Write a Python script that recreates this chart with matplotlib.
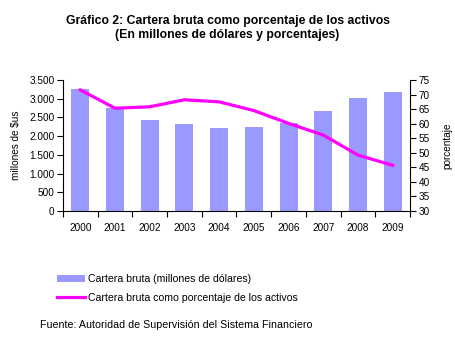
import matplotlib.pyplot as plt
import numpy as np
from matplotlib.ticker import FuncFormatter

plt.rcParams['font.family'] = ['Liberation Sans', 'DejaVu Sans']

# Data
anios = ['2000', '2001', '2002', '2003', '2004', '2005', '2006', '2007', '2008', '2009']
cartera = [3260, 2750, 2430, 2325, 2220, 2245, 2350, 2670, 3020, 3180]
porcentaje = [71.6, 65.3, 65.8, 68.2, 67.5, 64.5, 60.1, 56.1, 49.2, 45.7]

fig = plt.figure(figsize=(4.55, 3.41), dpi=100)
ax = fig.add_axes([63 / 455, 1 - 211 / 341, (410 - 63) / 455, (211 - 80) / 341])
x = np.arange(len(anios))

barras = ax.bar(x, cartera, width=0.52, color='#9999FF', zorder=2)
ax.set_xlim(-0.5, len(anios) - 0.5)
ax.set_ylim(0, 3500)
ax.set_yticks(np.arange(0, 3501, 500))
ax.yaxis.set_major_formatter(FuncFormatter(lambda v, p: f'{int(v):,}'.replace(',', '.')))
ax.set_xticks(x)
ax.set_xticklabels(anios)
ax.set_xticks(np.arange(-0.5, len(anios)), minor=True)
ax.tick_params(axis='x', which='major', length=0, labelsize=7.2, pad=8.5)
ax.tick_params(axis='x', which='minor', length=4, direction='out', width=0.8)
ax.tick_params(axis='y', labelsize=7.2, length=4, width=0.8, pad=2)
ax.set_ylabel('millones de $us', fontsize=7.2, labelpad=6)
for s in ['top', 'right']:
    ax.spines[s].set_visible(False)
for s in ['left', 'bottom']:
    ax.spines[s].set_linewidth(0.8)

ax2 = ax.twinx()
linea, = ax2.plot(x, porcentaje, color='#FF00FF', linewidth=2.3, zorder=3)
ax2.set_ylim(30, 75)
ax2.set_yticks(np.arange(30, 76, 5))
ax2.tick_params(axis='y', labelsize=7.2, length=4, width=0.8, pad=2)
ax2.set_ylabel('porcentaje', fontsize=7.2, labelpad=9)
for s in ['top', 'left', 'bottom']:
    ax2.spines[s].set_visible(False)
ax2.spines['right'].set_linewidth(0.8)

fig.text(0.5, 1 - 21 / 341, 'Gráfico 2: Cartera bruta como porcentaje de los activos',
         ha='center', va='center', fontsize=8.8, fontweight='bold')
fig.text(0.5, 1 - 35 / 341, '(En millones de dólares y porcentajes)',
         ha='center', va='center', fontsize=8.8, fontweight='bold')

fig.legend([barras, linea],
           ['Cartera bruta (millones de dólares)', 'Cartera bruta como porcentaje de los activos'],
           loc='upper left', bbox_to_anchor=(57 / 455, 1 - 274 / 341), frameon=False,
           borderpad=0, borderaxespad=0, fontsize=7.6, handlelength=2.65,
           handleheight=0.7, labelspacing=0.85, handletextpad=0.3)

fig.text(40 / 455, 1 - 325 / 341, 'Fuente: Autoridad de Supervisión del Sistema Financiero',
         ha='left', va='center', fontsize=7.7)

fig.savefig('out.png', dpi=100)
